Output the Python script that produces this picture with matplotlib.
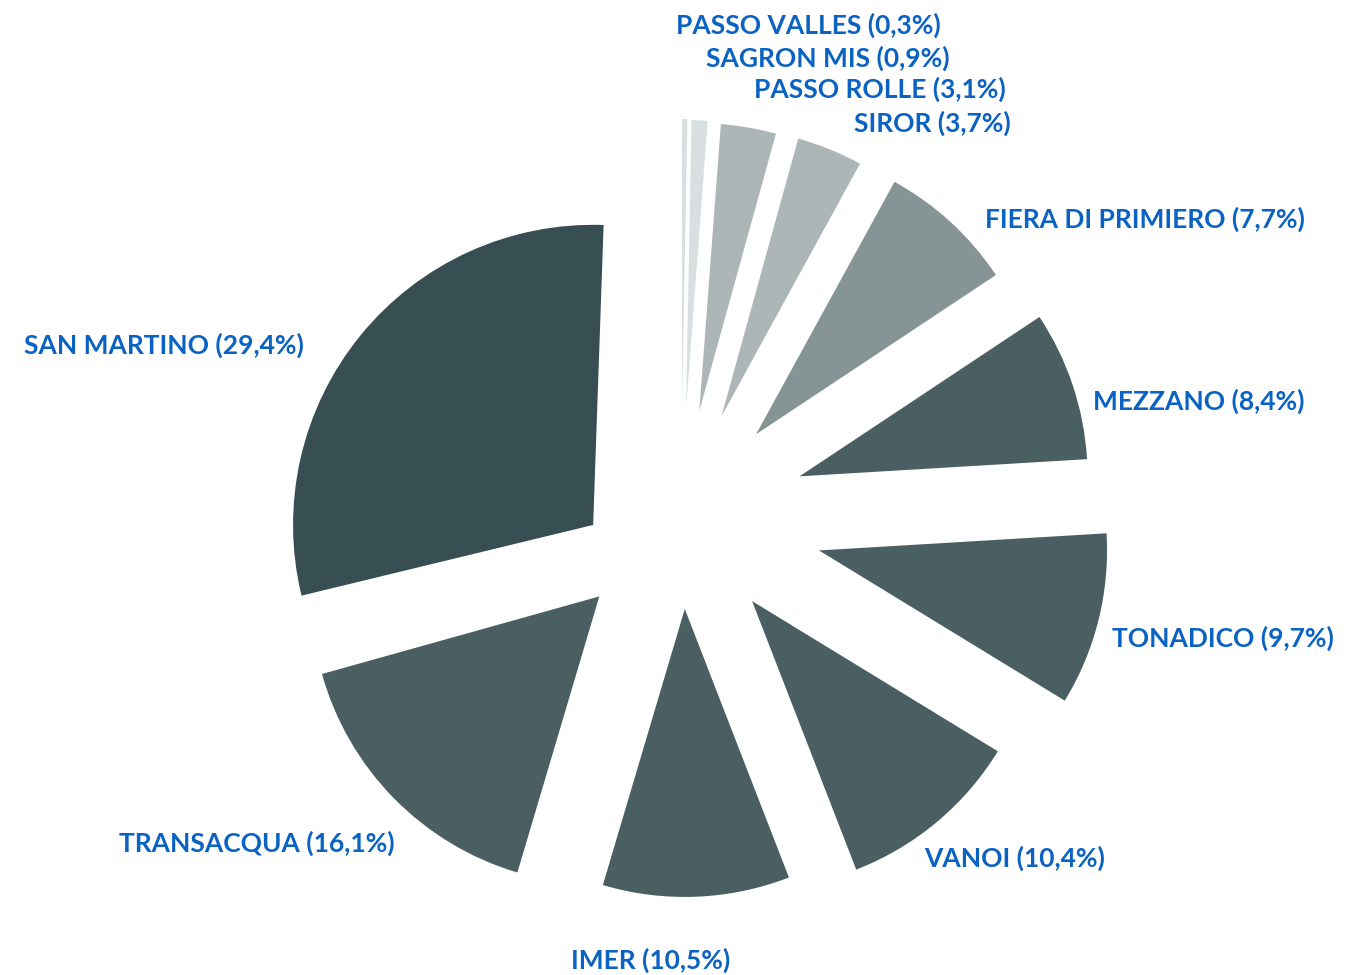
import matplotlib
matplotlib.use("Agg")
import matplotlib.pyplot as plt

# data, clockwise from the top
names = ["PASSO VALLES", "SAGRON MIS", "PASSO ROLLE", "SIROR", "FIERA DI PRIMIERO",
         "MEZZANO", "TONADICO", "VANOI", "IMER", "TRANSACQUA", "SAN MARTINO"]
shares = [0.3, 0.9, 3.1, 3.7, 7.7, 8.4, 9.7, 10.4, 10.5, 16.1, 29.4]

# styling
colors = ["#d8dfe0", "#d8dfe0", "#adb6b6", "#adb6b6", "#869496",
          "#4a5f62", "#4a5f62", "#4a5f62", "#4a5f62", "#4a5f62", "#374e52"]
explode_frac = [0.378, 0.375, 0.369, 0.374, 0.385, 0.434, 0.494, 0.385, 0.323, 0.398, 0.0]
label_pos = [(676, 25, "left"), (706, 58, "left"), (754, 89, "left"), (854, 123, "left"),
             (985, 219, "left"), (1093, 401, "left"), (1112, 638, "left"),
             (924, 858, "left"), (571, 960, "left"), (395, 843, "right"), (304, 345, "right")]
blue = "#0a62c2"

W, H = 1369, 975
R = 288
cx, cy = 681, H - 516

fig = plt.figure(figsize=(W / 100, H / 100), dpi=100)
ax = fig.add_axes([0, 0, 1, 1])

wedges, _ = ax.pie(shares, colors=colors, startangle=90, counterclock=False,
                   radius=R, center=(cx, cy),
                   explode=[e * R for e in explode_frac],
                   wedgeprops=dict(linewidth=0))

# the big slice is drawn a little larger and pushed to the left
sm = wedges[-1]
sm.set_radius(R * 1.042)
sm.set_center((cx - 0.305 * R, cy - 0.031 * R))
sm.set_theta1(sm.theta1 - 2)
sm.set_theta2(sm.theta2 - 2)

ax.set_xlim(0, W)
ax.set_ylim(0, H)
ax.set_aspect("equal")
ax.axis("off")

for name, val, (x, y, ha) in zip(names, shares, label_pos):
    txt = f"{name} ({val:.1f}%)".replace(".", ",")
    ax.text(x, H - y, txt, ha=ha, va="center", color=blue, fontsize=19,
            family=["Lato", "DejaVu Sans"], fontweight="bold")

fig.savefig("out.png", dpi=100)
